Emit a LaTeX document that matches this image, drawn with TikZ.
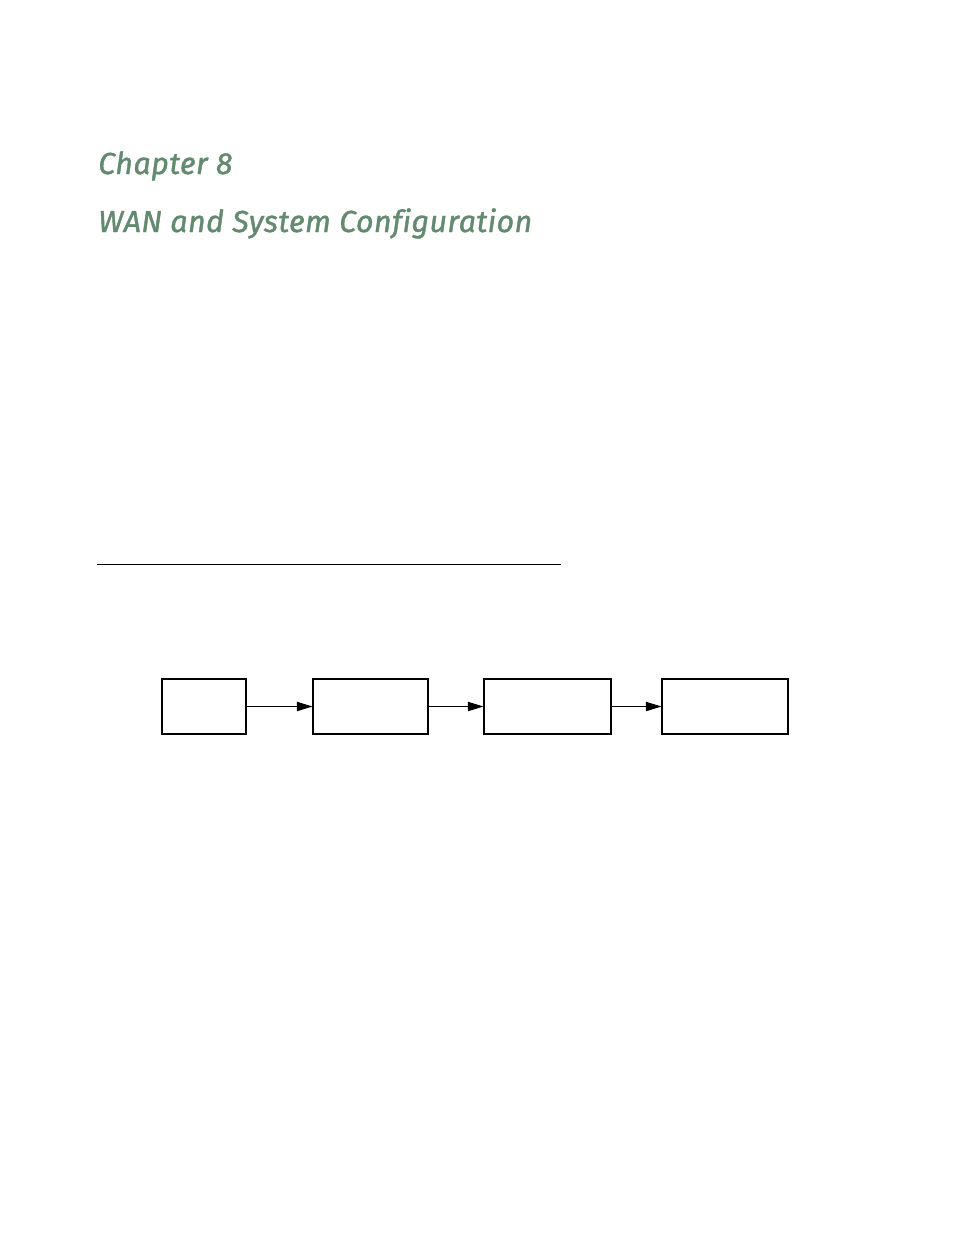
\documentclass[tikz,border=0pt]{standalone}
\usepackage{fontspec}
\usetikzlibrary{arrows.meta,positioning}
\newfontfamily\headfont[LetterSpace=1.5,FakeBold=1.3,Ligatures=NoCommon]{Fira Sans}
\definecolor{headgreen}{HTML}{628A6E}
\tikzset{box/.style={draw,line width=0.7pt,minimum height=55*0.6415pt,inner sep=0pt}}

\begin{document}
\begin{tikzpicture}[x=0.6415pt,y=-0.6415pt,>={Triangle[length=10pt,width=6pt]}]
    \useasboundingbox (0,0) rectangle (954,1235);
    \node[anchor=base west,inner sep=0pt,text=headgreen,font=\headfont\itshape\fontsize{19.5}{24}\selectfont] (chap) at (98,174) {Chapter 8};
    \node[anchor=base west,inner sep=0pt,text=headgreen,font=\headfont\itshape\fontsize{19.5}{24}\selectfont] (title) at (98,232) {WAN and System Configuration};
    \draw[line width=0.6pt] (97,564) -- (561,564);
    \node[box,minimum width=84*0.6415pt] (b1) at (204,706.5) {};
    \node[box,minimum width=115*0.6415pt] (b2) at (370.5,706.5) {};
    \node[box,minimum width=127*0.6415pt] (b3) at (547.5,706.5) {};
    \node[box,minimum width=126*0.6415pt] (b4) at (725,706.5) {};
    \draw[->,line width=0.6pt] (b1) -- (b2);
    \draw[->,line width=0.6pt] (b2) -- (b3);
    \draw[->,line width=0.6pt] (b3) -- (b4);
\end{tikzpicture}
\end{document}
